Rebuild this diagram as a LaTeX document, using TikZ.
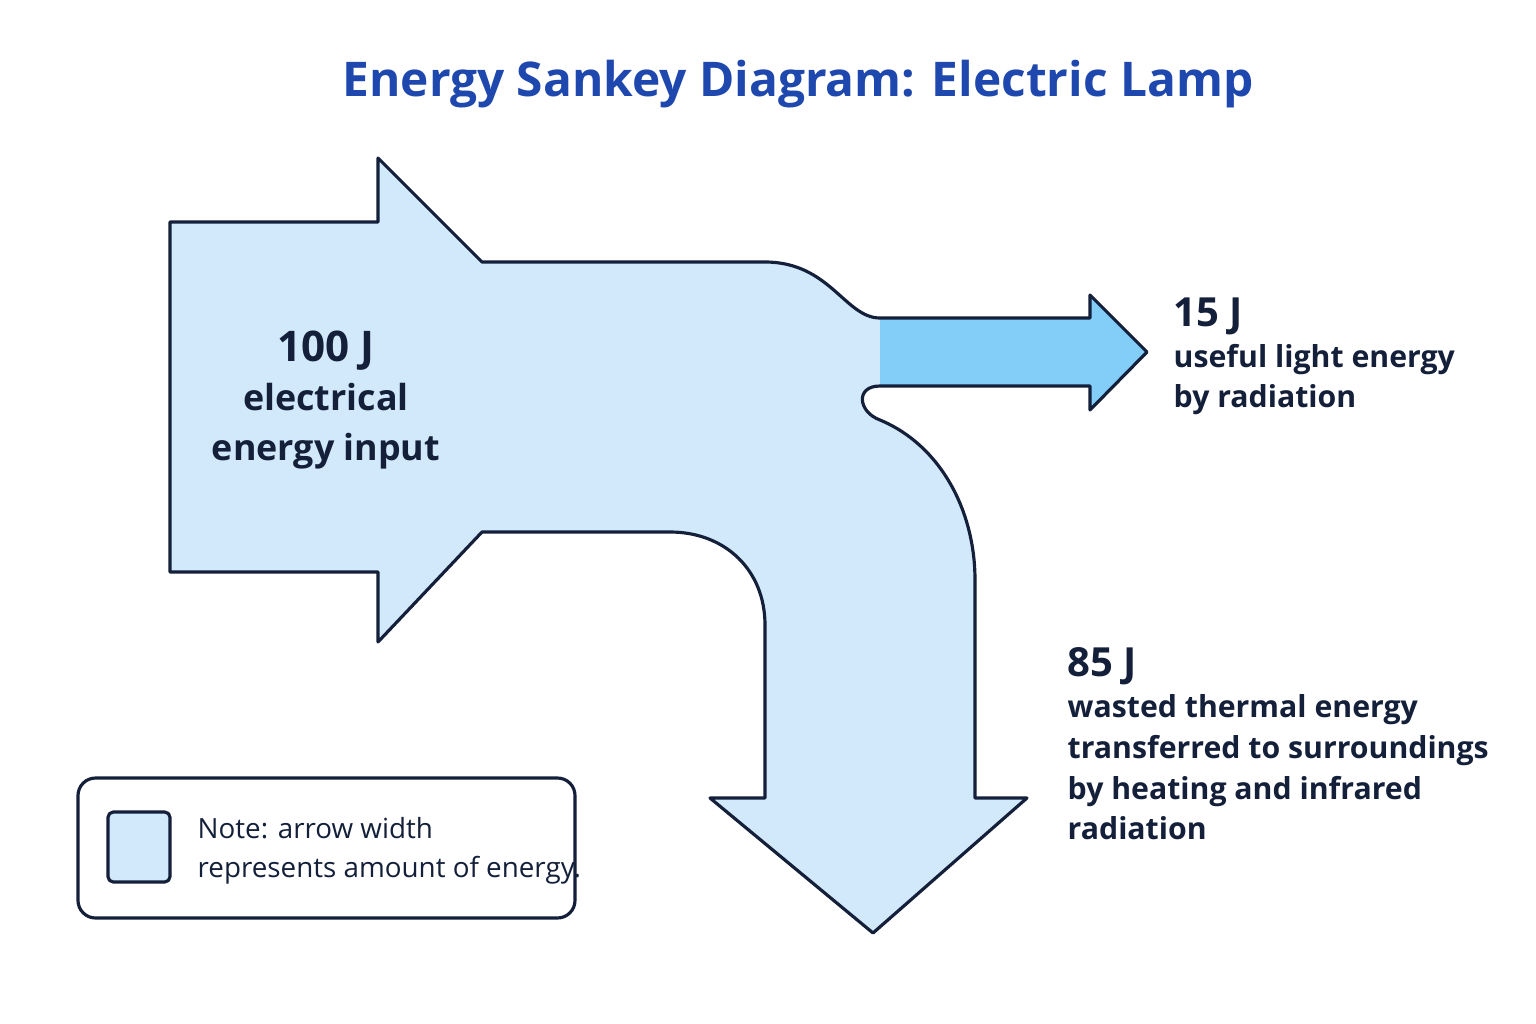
\documentclass[tikz,border=0pt]{standalone}
\usepackage{fontspec}
\setmainfont{Open Sans}
\usetikzlibrary{positioning}
\definecolor{flowblue}{HTML}{D2E8FB}
\definecolor{lightblue}{HTML}{82CEF9}
\definecolor{inkdark}{HTML}{14203A}
\definecolor{titleblue}{HTML}{1E48AE}
\tikzset{
  outline/.style={draw=inkdark,line width=0.9pt,line join=round},
  label/.style={text=inkdark,align=left,anchor=north west,inner sep=0pt},
}
\begin{document}
\begin{tikzpicture}[x=0.01cm,y=-0.01cm]
  \useasboundingbox[fill=white] (0,0) rectangle (1536,1024);
  \node[text=titleblue,font=\fontsize{13.6}{16}\selectfont\bfseries] (title) at (798,84) {Energy Sankey Diagram: Electric Lamp};

  % main flow
  \fill[flowblue] (170,222) -- (378,222) -- (378,158) -- (482,262) -- (765,262)
    .. controls (830,262) and (845,318) .. (880,318) -- (1090,318) -- (1090,295)
    -- (1147,352) -- (1090,410) -- (1090,386) -- (880,386)
    .. controls (855,386) and (858,412) .. (880,420)
    .. controls (940,445) and (975,510) .. (975,580) -- (975,798) -- (1027,798)
    -- (873,933) -- (710,798) -- (765,798) -- (765,625)
    .. controls (765,570) and (725,532) .. (670,532) -- (482,532)
    -- (378,642) -- (378,572) -- (170,572) -- cycle;
  % useful branch
  \fill[lightblue] (880,318) -- (1090,318) -- (1090,295) -- (1147,352)
    -- (1090,410) -- (1090,386) -- (880,386) -- cycle;
  \draw[outline] (170,222) -- (378,222) -- (378,158) -- (482,262) -- (765,262)
    .. controls (830,262) and (845,318) .. (880,318) -- (1090,318) -- (1090,295)
    -- (1147,352) -- (1090,410) -- (1090,386) -- (880,386)
    .. controls (855,386) and (858,412) .. (880,420)
    .. controls (940,445) and (975,510) .. (975,580) -- (975,798) -- (1027,798)
    -- (873,933) -- (710,798) -- (765,798) -- (765,625)
    .. controls (765,570) and (725,532) .. (670,532) -- (482,532)
    -- (378,642) -- (378,572) -- (170,572) -- cycle;

  \node[text=inkdark,align=center,font=\fontsize{10.2}{14}\selectfont\bfseries] (input) at (326,400)
    {{\fontsize{12}{14}\selectfont 100 J}\\electrical\\energy input};

  \node[label,font=\fontsize{8.6}{11.6}\selectfont\bfseries] (light) at (1173,297)
    {{\fontsize{11.4}{15}\selectfont 15 J}\\useful light energy\\by radiation};
  \node[label,font=\fontsize{8.6}{11.6}\selectfont\bfseries] (heat) at (1067,647)
    {{\fontsize{11.4}{15}\selectfont 85 J}\\wasted thermal energy\\transferred to surroundings\\by heating and infrared\\radiation};

  % legend
  \draw[outline,rounded corners=5pt,fill=white] (78,778) rectangle (575,918);
  \draw[outline,rounded corners=1.5pt,fill=flowblue] (108,812) rectangle (170,882);
  \node[label,font=\fontsize{7.9}{11}\selectfont] (note) at (197,817)
    {Note: arrow width\\represents amount of energy.};
\end{tikzpicture}
\end{document}
